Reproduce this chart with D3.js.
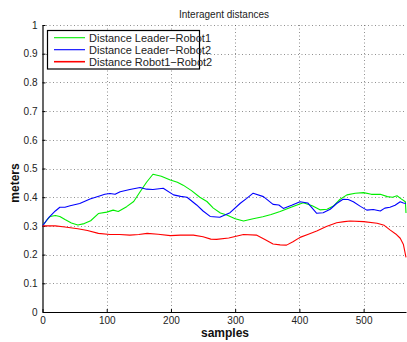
<!DOCTYPE html>
<html><head><meta charset="utf-8">
<script src="https://cdn.jsdelivr.net/npm/d3@7"></script>
<style>body{margin:0;background:#fff}svg{display:block}text{font-family:"Liberation Sans",Arial,sans-serif}</style>
</head><body><svg id="c" width="407" height="342"></svg>
<script>
const title = "Interagent distances";
const xLabel = "samples", yLabel = "meters";
const xTicks = [0,100,200,300,400,500];
const yTicks = [0,0.1,0.2,0.3,0.4,0.5,0.6,0.7,0.8,0.9,1];
const seriesNames = ["Distance Leader\u2212Robot1","Distance Leader\u2212Robot2","Distance Robot1\u2212Robot2"];
const seriesColors = ["#00ee00","#0000ff","#ff0000"];
const leaderRobot1 = [[0,0.30],[6,0.318],[12,0.333],[20,0.336],[27,0.333],[35,0.322],[45,0.310],[55,0.303],[65,0.308],[75,0.318],[87,0.343],[100,0.348],[110,0.355],[118,0.350],[131,0.367],[142,0.385],[152,0.419],[162,0.452],[172,0.480],[185,0.473],[199,0.460],[210,0.452],[219,0.442],[232,0.423],[245,0.400],[256,0.385],[266,0.362],[277,0.345],[287,0.338],[300,0.325],[313,0.317],[328,0.325],[343,0.332],[356,0.340],[370,0.350],[388,0.366],[406,0.381],[420,0.370],[432,0.356],[443,0.358],[453,0.369],[463,0.392],[474,0.408],[487,0.414],[500,0.416],[512,0.410],[526,0.410],[537,0.402],[545,0.400],[552,0.405],[558,0.395],[565,0.384],[566,0.345]];
const leaderRobot2 = [[0,0.30],[10,0.330],[20,0.352],[27,0.365],[35,0.365],[43,0.370],[58,0.378],[74,0.394],[90,0.405],[97,0.410],[105,0.413],[113,0.410],[121,0.419],[136,0.427],[152,0.434],[162,0.428],[172,0.427],[188,0.431],[204,0.408],[215,0.403],[225,0.400],[240,0.373],[250,0.352],[261,0.333],[276,0.330],[292,0.346],[308,0.379],[318,0.396],[328,0.414],[344,0.402],[359,0.375],[368,0.373],[375,0.361],[388,0.372],[401,0.384],[413,0.380],[427,0.344],[437,0.346],[448,0.358],[458,0.378],[468,0.393],[476,0.392],[484,0.384],[495,0.368],[505,0.355],[515,0.357],[526,0.352],[533,0.362],[541,0.365],[549,0.372],[557,0.384],[562,0.380],[566,0.378]];
const robot1Robot2 = [[0,0.30],[20,0.300],[35,0.296],[55,0.290],[70,0.284],[87,0.274],[105,0.270],[120,0.270],[136,0.268],[150,0.270],[163,0.274],[180,0.271],[199,0.266],[215,0.268],[235,0.268],[250,0.262],[262,0.254],[271,0.253],[290,0.258],[313,0.270],[333,0.268],[347,0.252],[359,0.237],[370,0.234],[380,0.233],[390,0.245],[401,0.260],[414,0.271],[427,0.282],[442,0.298],[458,0.311],[470,0.315],[479,0.317],[500,0.315],[521,0.309],[532,0.302],[541,0.286],[550,0.272],[557,0.257],[562,0.235],[566,0.190]];
const allSeries = [leaderRobot1, leaderRobot2, robot1Robot2];

const svg = d3.select("#c");
const L = 42.5, R = 406, T = 25, B = 312;
const x = d3.scaleLinear().domain([0,566]).range([L,R]);
const y = d3.scaleLinear().domain([0,1]).range([B,T]);

// grid
const g = svg.append("g");
g.selectAll(".gx").data(xTicks.slice(1)).enter().append("line")
  .attr("x1",d=>Math.round(x(d))+0.5).attr("x2",d=>Math.round(x(d))+0.5).attr("y1",T).attr("y2",B)
  .attr("stroke","#444").attr("stroke-width",0.6).attr("stroke-dasharray","1,2.5");
g.selectAll(".gy").data(yTicks.slice(1)).enter().append("line")
  .attr("y1",d=>Math.round(y(d))+0.5).attr("y2",d=>Math.round(y(d))+0.5).attr("x1",L).attr("x2",R)
  .attr("stroke","#444").attr("stroke-width",0.6).attr("stroke-dasharray","1,2.5");

// axes
const xa = svg.append("g").attr("transform",`translate(0,${B})`)
  .call(d3.axisBottom(x).tickValues(xTicks).tickSizeInner(-3).tickSizeOuter(0).tickPadding(5).tickFormat(d3.format("d")));
const ya = svg.append("g").attr("transform",`translate(${L},0)`)
  .call(d3.axisLeft(y).tickValues(yTicks).tickSizeInner(-3).tickSizeOuter(0).tickPadding(5).tickFormat(d=>d===0||d===1?String(d):d3.format(".1f")(d)));
[xa,ya].forEach(a=>{a.select(".domain").attr("stroke","#000").attr("stroke-width",1.2);
  a.selectAll("text").attr("font-size",10).attr("fill","#222");
  a.selectAll(".tick line").attr("stroke","#000");});

// lines
const line = d3.line().x(d=>x(d[0])).y(d=>y(d[1]));
allSeries.forEach((s,i)=>{
  svg.append("path").datum(s).attr("d",line).attr("fill","none")
    .attr("stroke",seriesColors[i]).attr("stroke-width",1.1).attr("stroke-linejoin","round");
});

// title & labels
svg.append("text").attr("x",224).attr("y",18).attr("text-anchor","middle").attr("font-size",10).attr("fill","#222").text(title);
svg.append("text").attr("x",225).attr("y",337).attr("text-anchor","middle").attr("font-size",12).attr("font-weight","bold").attr("fill","#111").text(xLabel);
svg.append("text").attr("transform","translate(19,183) rotate(-90)").attr("text-anchor","middle").attr("font-size",12).attr("font-weight","bold").attr("fill","#111").text(yLabel);

// legend
const lg = svg.append("g");
lg.append("rect").attr("x",47.5).attr("y",30.5).attr("width",152).attr("height",38.5).attr("fill","#fff").attr("stroke","#000").attr("stroke-width",1.2);
seriesNames.forEach((n,i)=>{
  const cy = 37.7 + i*12;
  lg.append("line").attr("x1",54).attr("x2",85).attr("y1",cy).attr("y2",cy).attr("stroke",seriesColors[i]).attr("stroke-width",i===2?1.6:1.1);
  lg.append("text").attr("x",89).attr("y",cy+4).attr("font-size",11).attr("fill","#222").text(n);
});
</script></body></html>
